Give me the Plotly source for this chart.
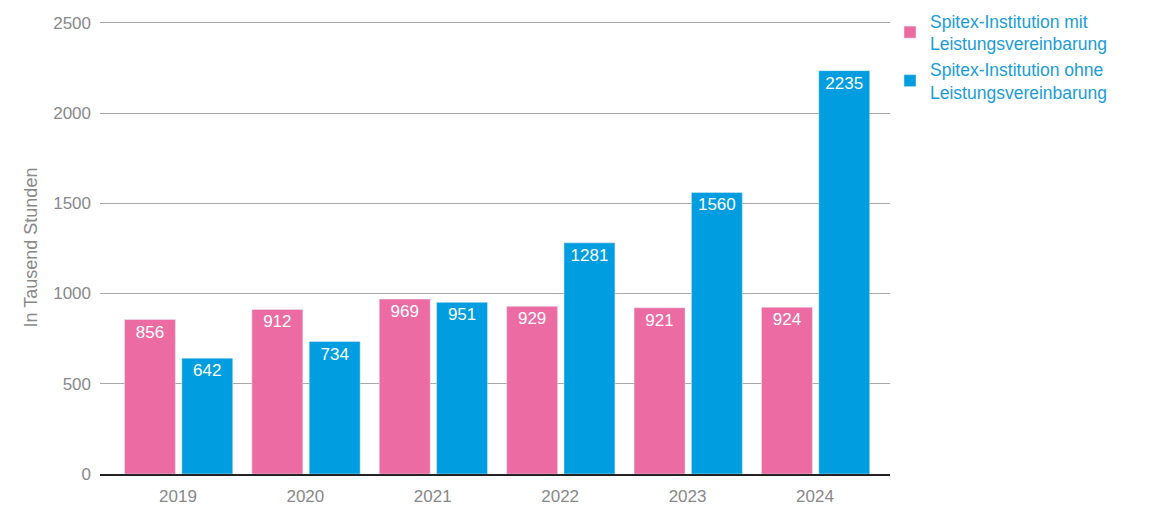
import plotly.graph_objects as go

years = ["2019", "2020", "2021", "2022", "2023", "2024"]
mit = [856, 912, 969, 929, 921, 924]
ohne = [642, 734, 951, 1281, 1560, 2235]
names = ["Spitex-Institution mit<br>Leistungsvereinbarung",
         "Spitex-Institution ohne<br>Leistungsvereinbarung"]
colors = ["#EC6BA3", "#009EE0"]

font = "Liberation Sans, Arial, sans-serif"
fig = go.Figure()
for vals, name, col, off in [(mit, names[0], colors[0], -0.42), (ohne, names[1], colors[1], 0.03)]:
    fig.add_trace(go.Bar(
        x=list(range(len(years))), y=vals, name=name, marker_color=col,
        width=0.4, offset=off, text=[str(v) for v in vals],
        textposition="inside", insidetextanchor="end",
        textfont=dict(color="white", size=17, family=font),
        cliponaxis=False,
    ))

fig.update_layout(
    width=1152, height=518,
    margin=dict(l=100, r=262, t=21, b=44, autoexpand=False),
    paper_bgcolor="white", plot_bgcolor="white",
    font=dict(family=font, color="#888888", size=17),
    barmode="overlay",
    showlegend=True,
    legend=dict(x=1.0, y=1.04, xanchor="left", yanchor="top",
                font=dict(color="#1A9CD8", size=17.5, family=font),
                itemwidth=30, tracegroupgap=0, bgcolor="rgba(0,0,0,0)"),
    xaxis=dict(tickmode="array", tickvals=list(range(len(years))), ticktext=years,
               range=[-0.612, 5.589], showgrid=False, showline=True,
               linecolor="#222222", linewidth=1.5, ticks="", zeroline=False,
               ticklabelstandoff=6,
               tickfont=dict(size=17, color="#888888")),
    yaxis=dict(range=[0, 2510], tickvals=[0, 500, 1000, 1500, 2000, 2500],
               showgrid=True, gridcolor="#A8A8A8", gridwidth=1, zeroline=False,
               ticks="", ticklabelstandoff=8,
               title=dict(text="In Tausend Stunden", font=dict(size=18, color="#888888"), standoff=10),
               tickfont=dict(size=17, color="#888888")),
)
fig.write_html("out.html")
